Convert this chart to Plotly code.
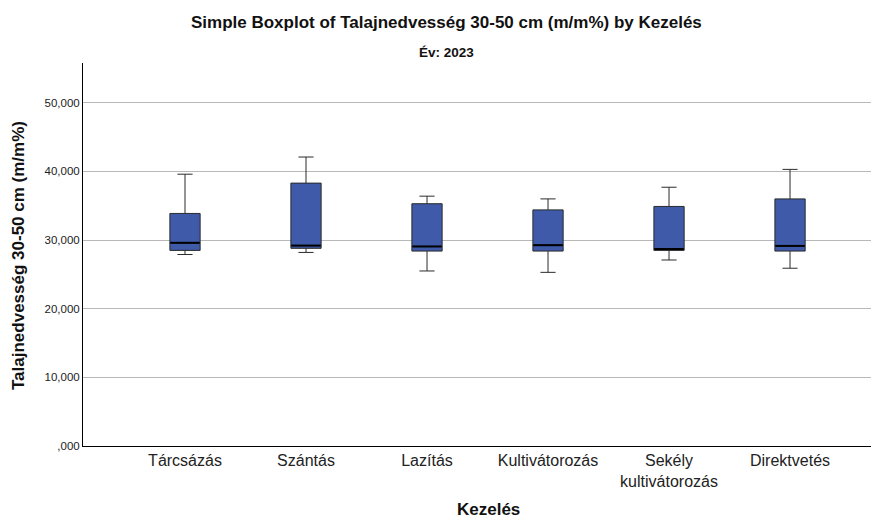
import plotly.graph_objects as go

categories = ["Tárcsázás", "Szántás", "Lazítás", "Kultivátorozás", "Sekély<br>kultivátorozás", "Direktvetés"]
lower_whisker = [27900, 28200, 25500, 25300, 27100, 25900]
q1_values = [28500, 28800, 28400, 28400, 28500, 28400]
median_values = [29600, 29200, 29070, 29260, 28700, 29150]
q3_values = [33880, 38300, 35300, 34400, 34900, 36000]
upper_whisker = [39600, 42100, 36400, 36000, 37700, 40300]

y_tick_vals = [0, 10000, 20000, 30000, 40000, 50000]
y_tick_text = [",000", "10,000", "20,000", "30,000", "40,000", "50,000"]

fig = go.Figure()
fig.add_trace(go.Box(
    x=categories,
    q1=q1_values, median=median_values, q3=q3_values,
    lowerfence=lower_whisker, upperfence=upper_whisker,
    fillcolor="#3E5AA8",
    line=dict(color="#2b2b2b", width=1),
    whiskerwidth=0.5,
    width=0.25,
    boxpoints=False,
    showlegend=False,
    hoverinfo="skip",
))
fig.add_trace(go.Scatter(
    x=categories, y=median_values, mode="markers",
    marker=dict(symbol="line-ew", size=21, line=dict(color="black", width=2)),
    showlegend=False, hoverinfo="skip",
))

font_family = "Liberation Sans, Arial, sans-serif"
# page body has an 8px margin; figure sized so it fits the 879x520 window
title_x = (446 - 83) / 795
fig.update_layout(
    width=871, height=512,
    margin=dict(l=75, r=1, t=55, b=74, autoexpand=False),
    paper_bgcolor="white", plot_bgcolor="white",
    font=dict(family=font_family, color="#222"),
    showlegend=False,
    xaxis=dict(
        range=[-0.843, 5.727],
        showline=True, linecolor="black", linewidth=1,
        showgrid=False, ticks="", zeroline=False,
        tickfont=dict(size=16, color="#222"),
        automargin=False,
    ),
    yaxis=dict(
        range=[0, 55800],
        tickvals=y_tick_vals, ticktext=y_tick_text,
        showline=True, linecolor="black", linewidth=1,
        showgrid=True, gridcolor="#b8b8b8", gridwidth=1,
        zeroline=False, ticks="",
        tickfont=dict(size=11.5, color="#222"),
        automargin=False,
    ),
    annotations=[
        dict(text="<b>Simple Boxplot of Talajnedvesség 30-50 cm (m/m%) by Kezelés</b>",
             xref="paper", yref="paper", x=title_x, y=1, yshift=41, xanchor="center", yanchor="middle",
             showarrow=False, font=dict(size=17, color="#111")),
        dict(text="<b>Év: 2023</b>",
             xref="paper", yref="paper", x=title_x, y=1, yshift=11, xanchor="center", yanchor="middle",
             showarrow=False, font=dict(size=13.5, color="#111")),
        dict(text="<b>Talajnedvesség 30-50 cm (m/m%)</b>",
             xref="paper", yref="paper", x=0, xshift=-65, y=(446 - 256) / 383, xanchor="center", yanchor="middle",
             textangle=-90, showarrow=False, font=dict(size=17, color="#111")),
        dict(text="<b>Kezelés</b>",
             xref="paper", yref="paper", x=(488 - 83) / 795, y=0, yshift=-63, xanchor="center", yanchor="middle",
             showarrow=False, font=dict(size=17, color="#111")),
    ],
)

fig.write_html("out.html")
